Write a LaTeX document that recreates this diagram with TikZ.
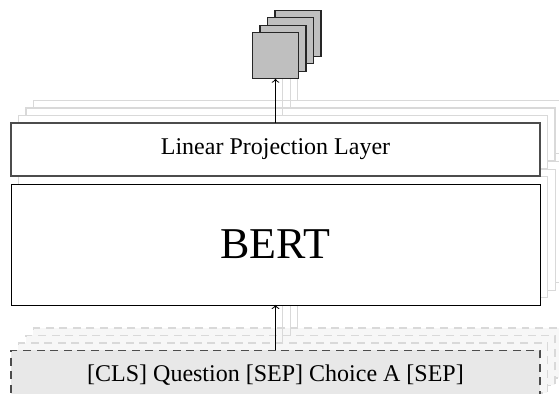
\documentclass[tikz,border=0pt]{standalone}
\usepackage{fontspec}
\setmainfont{Liberation Serif}
\begin{document}
\begin{tikzpicture}[x=0.5pt, y=-0.5pt, >=to,
layer_style/.style={draw=black!70, fill=white, line width=0.55pt, minimum width=264.5pt, minimum height=26.5pt, inner sep=0pt, outer sep=0pt, font=\fontsize{12}{14}\selectfont},
bert_style/.style={layer_style, draw=black, line width=0.45pt, minimum height=60.5pt, font=\fontsize{22}{26}\selectfont},
input_style/.style={layer_style, minimum height=25pt, dash pattern=on 4pt off 2.8pt, fill=gray!18},
ghost_style/.style={draw=black!15},
ghost_input_style/.style={draw=black!15, fill=gray!6},
out_style/.style={draw=black!85, fill=gray!50, line width=0.55pt, minimum size=23pt, inner sep=0pt, outer sep=0pt},
edge_style/.style={->, draw=black, line width=0.5pt},
ghost_edge_style/.style={draw=black!15}]
\useasboundingbox (0,0) rectangle (559,394);
\clip (0,0) rectangle (559,394);
% copies behind
\foreach \k in {3,2,1}{
\begin{scope}[shift={(7.5*\k,-7.5*\k)}]
\node[input_style, ghost_input_style] (in\k) at (275.5,375.5) {};
\node[bert_style, ghost_style] (bert\k) at (275.5,244.5) {};
\node[layer_style, ghost_style] (lin\k) at (275.5,149.5) {};
\node[out_style] (out\k) at (275.5,55.8) {};
\draw[edge_style, ghost_edge_style] (in\k) -- (bert\k);
\draw[edge_style, ghost_edge_style] (lin\k) -- (out\k);
\end{scope}}
% front
\node[input_style] (in) at (275.5,375.5) {[CLS] Question [SEP] Choice A [SEP]};
\node[bert_style] (bert) at (275.5,244.5) {BERT};
\node[layer_style] (lin) at (275.5,149.5) {Linear Projection Layer};
\node[out_style] (out) at (275.5,55.8) {};
\draw[edge_style] (in) -- (bert);
\draw[edge_style] (lin) -- (out);
\end{tikzpicture}
\end{document}
